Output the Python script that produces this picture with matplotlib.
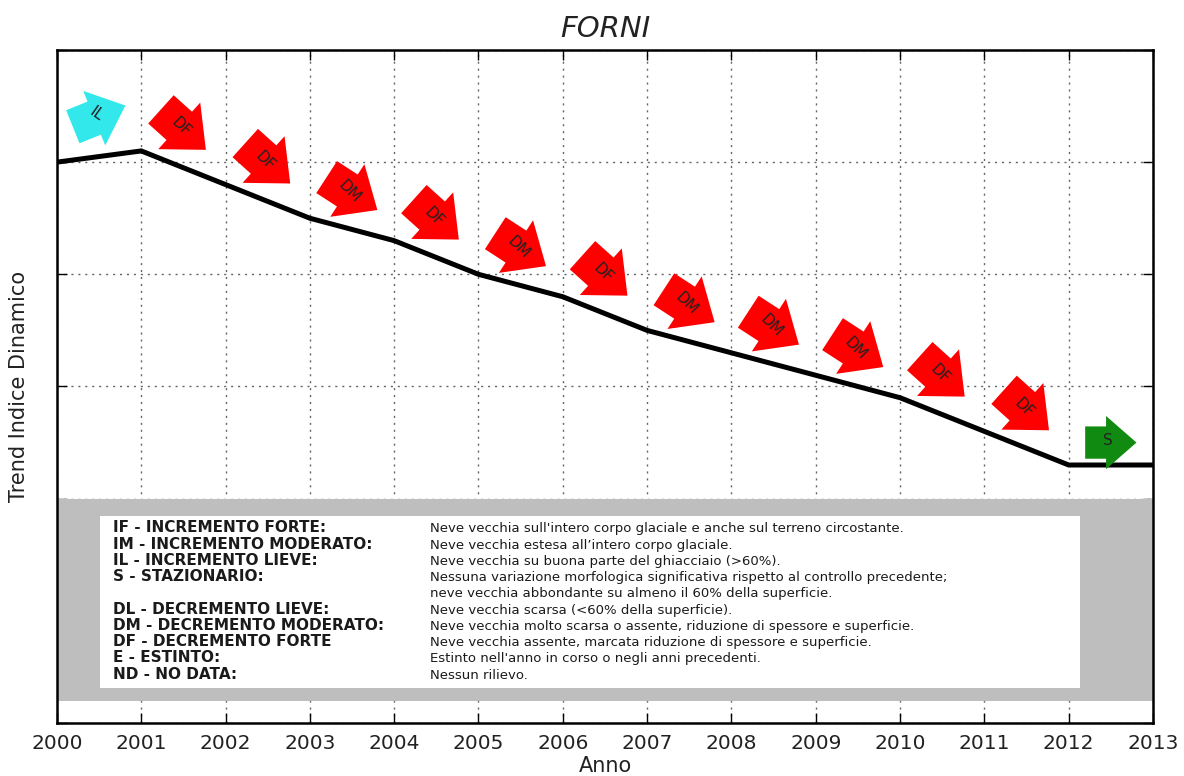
import matplotlib
matplotlib.use('Agg')
import numpy as np
import matplotlib.pyplot as plt
from matplotlib.patches import Rectangle, Polygon
import matplotlib.transforms as mtransforms

# dati
anni = list(range(2000, 2014))
trend = [5.0, 5.1, 4.8, 4.5, 4.3, 4.0, 3.8, 3.5, 3.3, 3.1, 2.9, 2.6, 2.3, 2.3]
classi = ['IL', 'DF', 'DF', 'DM', 'DF', 'DM', 'DF', 'DM', 'DM', 'DM', 'DF', 'DF', 'S']

codici = ['IF - INCREMENTO FORTE:', 'IM - INCREMENTO MODERATO:', 'IL - INCREMENTO LIEVE:',
          'S - STAZIONARIO:', '', 'DL - DECREMENTO LIEVE:', 'DM - DECREMENTO MODERATO:',
          'DF - DECREMENTO FORTE', 'E - ESTINTO:', 'ND - NO DATA:']
descrizioni = ["Neve vecchia sull'intero corpo glaciale e anche sul terreno circostante.",
               "Neve vecchia estesa all\u2019intero corpo glaciale.",
               "Neve vecchia su buona parte del ghiacciaio (>60%).",
               "Nessuna variazione morfologica significativa rispetto al controllo precedente;",
               "neve vecchia abbondante su almeno il 60% della superficie.",
               "Neve vecchia scarsa (<60% della superficie).",
               "Neve vecchia molto scarsa o assente, riduzione di spessore e superficie.",
               "Neve vecchia assente, marcata riduzione di spessore e superficie.",
               "Estinto nell'anno in corso o negli anni precedenti.",
               "Nessun rilievo."]

# stile frecce: angolo, colore, rotazione testo, offset verticale, scala
stile = {'IL': (22, '#33e8ea', -35, 0.36, 1.05),
         'DF': (-42, '#ff0000', -45, 0.34, 1.12),
         'DM': (-33, '#ff0000', -45, 0.32, 1.12),
         'S': (0, '#118a11', 0, 0.20, 0.95)}

fig = plt.figure(figsize=(11.84, 7.76), dpi=100)
ax = fig.add_axes([0.0481, 0.0683, 0.9257, 0.8673])

ax.set_xlim(2000, 2013)
ax.set_ylim(0, 6)
ax.set_xticks(anni)
ax.set_xticklabels([str(a) for a in anni], fontsize=14.5, color='#222222')
ax.set_yticks(range(0, 7))
ax.set_yticklabels([])
ax.tick_params(direction='in', length=7, width=1, top=True, right=True, pad=8)
for s in ax.spines.values():
    s.set_linewidth(1.8)

ax.grid(True, color='#666666', linestyle=(0, (1.5, 3.5)), linewidth=1.0, zorder=1)
ax.set_axisbelow(True)

# riquadro legenda
ax.add_patch(Rectangle((2000, 0.2), 13, 1.8, facecolor='#bebebe', edgecolor='none', zorder=2))
ax.add_patch(Rectangle((2000.51, 0.31), 11.62, 1.535, facecolor='white', edgecolor='none', zorder=2.5))

y0 = 1.70
passo = 0.145
for i, c in enumerate(codici):
    ax.text(2000.66, y0 - i * passo, c, fontsize=11, fontweight='bold', color='#1a1a1a',
            va='baseline', zorder=3)
for i, d in enumerate(descrizioni):
    ax.text(2004.42, y0 - i * passo, d, fontsize=9.5, color='#1a1a1a', va='baseline', zorder=3)

ax.plot(anni, trend, color='black', linewidth=3.6, zorder=3, solid_joinstyle='miter')

# frecce
L, hl, bw, hw = 0.54, 0.32, 0.34, 0.56
forma = np.array([(-L / 2, -bw / 2), (L / 2 - hl, -bw / 2), (L / 2 - hl, -hw / 2), (L / 2, 0),
                  (L / 2 - hl, hw / 2), (L / 2 - hl, bw / 2), (-L / 2, bw / 2)])
for i, c in enumerate(classi):
    ang, col, rot, off, sc = stile[c]
    xc = (anni[i] + anni[i + 1]) / 2
    yc = (trend[i] + trend[i + 1]) / 2 + off
    tr = (mtransforms.Affine2D().scale(sc).rotate_deg(ang) + fig.dpi_scale_trans +
          mtransforms.ScaledTranslation(xc, yc, ax.transData))
    ax.add_patch(Polygon(forma, closed=True, transform=tr, facecolor=col, edgecolor='none',
                         zorder=4, clip_on=False))
    ax.text(xc - 0.03, yc + 0.02, c, rotation=rot, ha='center', va='center', rotation_mode='anchor',
            fontsize=11, color='#222222', zorder=5)

ax.set_title('FORNI', fontsize=21, fontstyle='italic', color='#222222', pad=9)
ax.set_xlabel('Anno', fontsize=15, color='#222222', labelpad=2)
ax.set_ylabel('Trend Indice Dinamico', fontsize=15, color='#222222', labelpad=12)

fig.savefig('out.png', dpi=100)
